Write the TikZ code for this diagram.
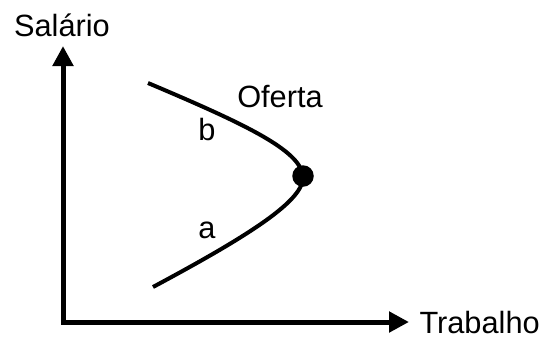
\documentclass[tikz,border=0pt]{standalone}
\usepackage{fontspec}
\setmainfont{Liberation Sans}
\usepackage{tikz}
\usetikzlibrary{arrows.meta, positioning}

\begin{document}
\begin{tikzpicture}[
  x=0.4pt, y=-0.4pt,
  axis/.style={line width=2pt, -{Triangle[length=8pt, width=8pt]}},
  curve/.style={line width=1.6pt},
  lbl/.style={font=\fontsize{12.3}{14}\selectfont, inner sep=0pt}
]
\useasboundingbox (0,0) rectangle (547,363);

% axes
\coordinate (origin) at (63,322);
\coordinate (ytip) at (63,46);
\coordinate (xtip) at (409,322);
\draw[axis, line cap=rect] (origin) -- (ytip);
\draw[axis] (origin) -- (xtip);
\node[lbl] (ylab) at (62,25) {Salário};
\node[lbl, right=4pt of xtip] (xlab) {Trabalho};

% oferta
\coordinate (top) at (148,83);
\coordinate (bot) at (153,287);
\node[circle, fill=black, inner sep=0pt, minimum size=8.6pt] (pt) at (303,176) {};
\draw[curve] (top) .. controls (245,124) and (300,150) .. (pt.center)
  .. controls (305,200) and (250,235) .. (bot);
\node[lbl] (oferta) at (280,97) {Oferta};
\node[lbl] (b) at (207,129) {b};
\node[lbl] (a) at (207,230) {a};

\end{tikzpicture}
\end{document}
